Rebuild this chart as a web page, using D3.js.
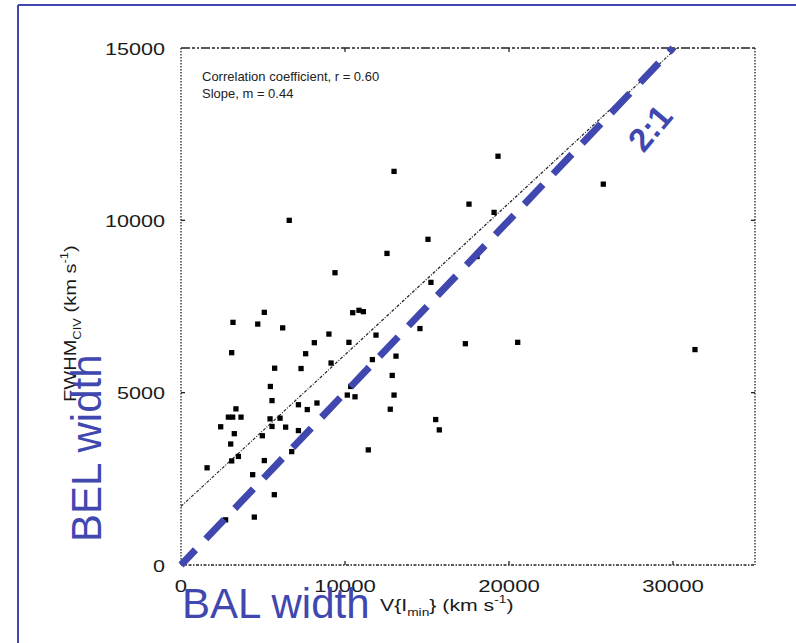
<!DOCTYPE html>
<html>
<head>
<meta charset="utf-8">
<script src="https://cdn.jsdelivr.net/npm/d3@7"></script>
<style>
  html, body { margin: 0; padding: 0; background: #fff; }
  svg { display: block; }
  .tick-label { font-family: "Liberation Sans", Arial, sans-serif; font-size: 17px; fill: #1a1a1a; }
  .note { font-family: "Liberation Sans", Arial, sans-serif; font-size: 13px; fill: #222; }
  .big { font-family: "Liberation Sans", Arial, sans-serif; fill: #4048b0; }
</style>
</head>
<body>
<svg id="chart" width="796" height="643"></svg>
<script>
// V(I_min) in km/s
const balWidth = [
  6600, 9390, 5080, 3170, 4680, 6200, 9020, 10470, 10850, 11120,
  11890, 10240, 8130, 3090, 7600, 9150, 11670, 5710, 7320, 5450,
  10350, 10140, 10610, 5550, 8290, 7160, 7700, 3350, 2890, 3150,
  3660, 5430, 6040, 2420, 5550, 6380, 3250, 4960, 7160, 3030,
  6750, 3500, 3090, 5080, 1590, 4370, 11420, 5690, 4470, 2720,
  17340, 20530, 13110, 12880, 12990, 12760, 15530, 15750, 19330, 12990,
  17560, 19090, 15060, 12560, 18050, 15240, 14570, 25750, 31340
];
// FWHM CIV in km/s
const belWidth = [
  10000, 8480, 7330, 7040, 6990, 6880, 6700, 7320, 7390, 7350,
  6670, 6460, 6450, 6160, 6130, 5860, 5960, 5710, 5700, 5180,
  5180, 4930, 4880, 4770, 4700, 4650, 4510, 4530, 4290, 4290,
  4290, 4240, 4260, 4010, 4020, 4000, 3810, 3750, 3900, 3510,
  3290, 3150, 3020, 3030, 2820, 2620, 3340, 2040, 1390, 1310,
  6420, 6460, 6060, 5500, 4930, 4520, 4220, 3920, 11860, 11420,
  10470, 10230, 9450, 9040, 8950, 8200, 6860, 11050, 6250
];
const xTicks = [0, 10000, 20000, 30000];
const yTicks = [0, 5000, 10000, 15000];
const fitIntercept = 1700;
const fitSlope = 0.44;
const ratioLine = 0.5;   // 2:1 line
const notes = ["Correlation coefficient, r = 0.60", "Slope, m = 0.44"];

const svg = d3.select("#chart");
const blue = "#4048b0";

const x = d3.scaleLinear().domain([0, 35000]).range([181, 755]);
const y = d3.scaleLinear().domain([0, 15000]).range([565, 48]);

// outer slide frame
svg.append("line").attr("x1", 18).attr("x2", 18).attr("y1", 5).attr("y2", 643)
  .attr("stroke", blue).attr("stroke-width", 2);
svg.append("line").attr("x1", 18).attr("x2", 796).attr("y1", 5).attr("y2", 5)
  .attr("stroke", blue).attr("stroke-width", 2);

// plot frame
const frame = svg.append("g").attr("stroke", "#222").attr("fill", "none");
frame.append("line").attr("x1", x(0)).attr("x2", x(35000)).attr("y1", y(15000)).attr("y2", y(15000))
  .attr("stroke-width", 1.4).attr("stroke-dasharray", "9,2,3,2,2,2");
frame.append("line").attr("x1", x(0)).attr("x2", x(0)).attr("y1", y(15000)).attr("y2", y(0))
  .attr("stroke-width", 1.3).attr("stroke-dasharray", "1.5,1.5");
frame.append("line").attr("x1", x(35000)).attr("x2", x(35000)).attr("y1", y(15000)).attr("y2", y(0))
  .attr("stroke-width", 1.3).attr("stroke-dasharray", "1.5,1.5");
frame.append("line").attr("x1", x(0)).attr("x2", x(35000)).attr("y1", y(0)).attr("y2", y(0))
  .attr("stroke-width", 1.3).attr("stroke-dasharray", "3,1.5,1.5,1.5");

// small ticks
frame.selectAll("line.xt").data(xTicks.slice(1)).join("line").attr("class", "xt")
  .attr("x1", (d) => x(d)).attr("x2", (d) => x(d))
  .attr("y1", y(0)).attr("y2", y(0) - 4).attr("stroke-width", 1.3);
frame.selectAll("line.xt2").data(xTicks.slice(1)).join("line").attr("class", "xt2")
  .attr("x1", (d) => x(d)).attr("x2", (d) => x(d))
  .attr("y1", y(15000)).attr("y2", y(15000) + 4).attr("stroke-width", 1.3);
frame.selectAll("line.yt").data(yTicks.slice(1, 3)).join("line").attr("class", "yt")
  .attr("x1", x(0)).attr("x2", x(0) + 4)
  .attr("y1", (d) => y(d)).attr("y2", (d) => y(d)).attr("stroke-width", 1.3);
frame.selectAll("line.yt2").data(yTicks.slice(1, 3)).join("line").attr("class", "yt2")
  .attr("x1", x(35000)).attr("x2", x(35000) - 4)
  .attr("y1", (d) => y(d)).attr("y2", (d) => y(d)).attr("stroke-width", 1.3);

// tick labels
svg.selectAll("text.xl").data(xTicks).join("text")
  .attr("class", "tick-label xl")
  .attr("x", (d) => x(d)).attr("y", 592)
  .attr("text-anchor", "middle")
  .attr("textLength", (d) => String(d).length * 12.3)
  .attr("lengthAdjust", "spacingAndGlyphs")
  .text((d) => d);
svg.selectAll("text.yl").data(yTicks).join("text")
  .attr("class", "tick-label yl")
  .attr("x", 165).attr("y", (d) => y(d) + 6.5)
  .attr("text-anchor", "end")
  .attr("textLength", (d) => String(d).length * 12)
  .attr("lengthAdjust", "spacingAndGlyphs")
  .text((d) => d);

// notes
svg.selectAll("text.note").data(notes).join("text")
  .attr("class", "note")
  .attr("x", 202).attr("y", (d, i) => 81 + i * 17)
  .text((d) => d);

// regression fit line
const fitEnd = (15000 - fitIntercept) / fitSlope;
svg.append("line")
  .attr("x1", x(0)).attr("y1", y(fitIntercept))
  .attr("x2", x(fitEnd)).attr("y2", y(15000))
  .attr("stroke", "#222").attr("stroke-width", 1.2)
  .attr("stroke-dasharray", "3,1.5,1,1.5");

// points
const pts = balWidth.map((v, i) => ({ v, w: belWidth[i] }));
svg.append("g").selectAll("path").data(pts).join("path")
  .attr("transform", (d) => `translate(${x(d.v)},${y(d.w)})`)
  .attr("d", d3.symbol().type(d3.symbolSquare).size(28))
  .attr("fill", "#000");

// 2:1 line
const ratioEnd = 15000 / ratioLine;
svg.append("line")
  .attr("x1", x(0)).attr("y1", y(0))
  .attr("x2", x(ratioEnd)).attr("y2", y(15000))
  .attr("stroke", blue).attr("stroke-width", 7)
  .attr("stroke-dasharray", "27,15").attr("stroke-dashoffset", 6);

svg.append("text").attr("class", "big")
  .attr("transform", "translate(650,128) rotate(-50)")
  .attr("text-anchor", "middle")
  .attr("font-size", 33).attr("font-weight", "bold")
  .attr("dy", "0.35em")
  .text("2:1");

// axis titles
const xt = svg.append("text").attr("class", "tick-label")
  .attr("transform", "translate(380,611) scale(1.25,1)");
xt.append("tspan").text("V{I");
xt.append("tspan").attr("font-size", 11).attr("dy", 5).text("min");
xt.append("tspan").attr("dy", -5).text("} (km s");
xt.append("tspan").attr("font-size", 11).attr("dy", -8).text("-1");
xt.append("tspan").attr("dy", 8).text(")");

const yt = svg.append("text").attr("class", "tick-label")
  .attr("transform", "translate(76,402) rotate(-90) scale(1.18,1)");
yt.append("tspan").text("FWHM");
yt.append("tspan").attr("font-size", 11).attr("dy", 5).text("CIV");
yt.append("tspan").attr("dy", -5).text(" (km s");
yt.append("tspan").attr("font-size", 11).attr("dy", -8).text("-1");
yt.append("tspan").attr("dy", 8).text(")");

svg.append("text").attr("class", "big")
  .attr("x", 182).attr("y", 618)
  .attr("font-size", 42)
  .text("BAL width");
svg.append("text").attr("class", "big")
  .attr("transform", "translate(101,542) rotate(-90)")
  .attr("font-size", 42)
  .text("BEL width");
</script>
</body>
</html>
